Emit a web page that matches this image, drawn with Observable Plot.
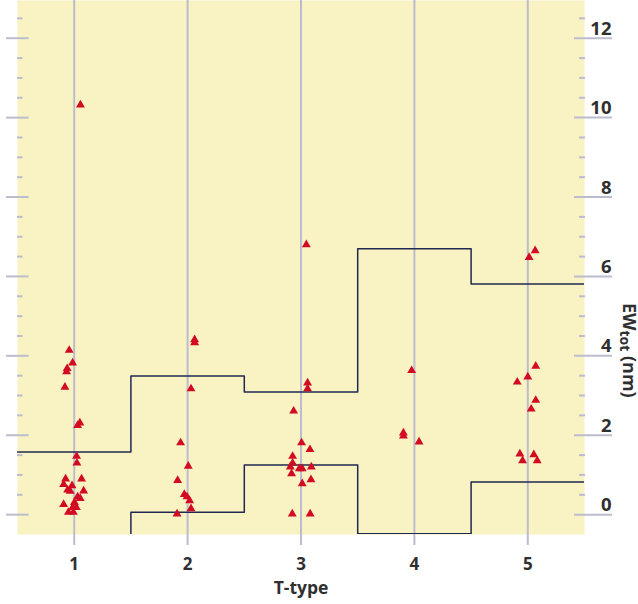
<!DOCTYPE html>
<html>
<head>
<meta charset="utf-8">
<script src="https://cdn.jsdelivr.net/npm/d3@7"></script>
<script src="https://cdn.jsdelivr.net/npm/@observablehq/plot@0.6"></script>
<style>
  html, body { margin: 0; padding: 0; background: #ffffff; }
  #chart svg { display: block; }
</style>
</head>
<body>
<div id="chart"></div>
<script>
// T-type categories (x positions of the vertical guides and tick labels)
const tTypes = [1, 2, 3, 4, 5];

// Individual measurements: horizontal position (spread around each T-type) and EW_tot in nm
const pointX = [
  1.055, 0.956, 0.986, 0.938, 0.933, 0.918, 1.050, 1.030, 1.021, 1.024,
  0.924, 1.065, 0.907, 0.981, 0.942, 0.965, 1.083, 1.030, 1.053, 0.907, 1.002, 0.987, 1.019, 0.949, 0.993,
  2.062, 2.062, 2.030, 1.938, 2.006, 1.912, 1.971, 1.995, 2.018, 2.030, 1.907,
  3.047, 3.058, 3.058, 2.935, 3.005, 3.079, 2.926, 2.926, 2.906, 2.985, 3.011, 3.091, 2.917, 3.088, 3.011, 2.923, 3.081,
  3.976, 3.903, 3.903, 4.041,
  5.065, 5.012, 5.070, 5.000, 4.907, 5.070, 5.030, 4.930, 4.954, 5.053, 5.083
];
const pointEW = [
  10.32, 4.14, 3.82, 3.68, 3.60, 3.21, 2.31, 2.25, 1.47, 1.30,
  0.90, 0.90, 0.76, 0.73, 0.62, 0.59, 0.60, 0.45, 0.41, 0.26, 0.31, 0.18, 0.18, 0.06, 0.06,
  4.41, 4.33, 3.17, 1.81, 1.22, 0.86, 0.51, 0.45, 0.35, 0.15, 0.02,
  6.80, 3.32, 3.17, 2.61, 1.81, 1.64, 1.47, 1.30, 1.20, 1.16, 1.16, 1.20, 1.03, 0.88, 0.78, 0.02, 0.02,
  3.63, 2.06, 1.98, 1.83,
  6.65, 6.48, 3.74, 3.47, 3.34, 2.88, 2.66, 1.53, 1.36, 1.51, 1.36
];

// Upper and lower envelopes per T-type bin (bin edges at half-integers)
const binEdges = [0.5, 1.5, 2.5, 3.5, 4.5, 5.5];
const upperEW = [1.58, 3.49, 3.09, 6.70, 5.81];
const lowerEW = [-1.0, 0.06, 1.25, -0.48, 0.82];

// Axis ticks
const majorTicks = [0, 2, 4, 6, 8, 10, 12];
const minorTicks = [0.5, 1, 1.5, 2.5, 3, 3.5, 4.5, 5, 5.5, 6.5, 7, 7.5, 8.5, 9, 9.5, 10.5, 11, 11.5, 12.5];

const points = pointX.map((x, i) => ({x, ew: pointEW[i]}));
const stepData = (vals) => binEdges.map((x, i) => ({x, ew: vals[Math.min(i, vals.length - 1)]}));

const bg = "#f9f2c2";
const guide = "#bcbccf";
const navy = "#1f2850";
const red = "#d20a23";
const ink = "#2f2f2f";

const chart = Plot.plot({
  width: 638,
  height: 604,
  marginLeft: 17,
  marginRight: 54,
  marginTop: 0,
  marginBottom: 70,
  x: {domain: [0.5, 5.5], axis: null},
  y: {domain: [-0.5, 12.95], axis: null},
  style: {fontFamily: "'Open Sans', sans-serif", background: "transparent", overflow: "visible"},
  marks: [
    Plot.frame({fill: bg, stroke: null}),
    Plot.ruleX(tTypes, {stroke: guide, strokeWidth: 2, insetBottom: -11}),
    // left-side ticks
    Plot.axisY({anchor: "left", ticks: majorTicks, tickSize: 22.5, dx: 11.5, stroke: guide, strokeWidth: 2, fill: "none", label: null}),
    Plot.axisY({anchor: "left", ticks: minorTicks, tickSize: 5.5, dx: 5.5, stroke: guide, strokeWidth: 2, fill: "none", label: null}),
    // right-side ticks
    Plot.axisY({anchor: "right", ticks: majorTicks, tickSize: 38, dx: -11, stroke: guide, strokeWidth: 2, fill: "none", label: null}),
    Plot.axisY({anchor: "right", ticks: minorTicks, tickSize: 6, dx: -6, stroke: guide, strokeWidth: 2, fill: "none", label: null}),
    Plot.lineY(stepData(upperEW), {x: "x", y: "ew", curve: "step-after", stroke: navy, strokeWidth: 1.5, clip: true}),
    Plot.lineY(stepData(lowerEW), {x: "x", y: "ew", curve: "step-after", stroke: navy, strokeWidth: 1.5, clip: true}),
    Plot.dot(points, {x: "x", y: "ew", symbol: "triangle", r: 3.3, fill: red, stroke: null}),
    // tick labels
    Plot.axisY({anchor: "right", ticks: majorTicks, tickSize: 0, tickPadding: 27, textAnchor: "end", lineAnchor: "bottom", dy: -3.5,
      fontSize: 18.5, fontWeight: "bold", fill: ink, label: null}),
    Plot.axisX({anchor: "bottom", ticks: tTypes, tickSize: 0, tickPadding: 23, tickFormat: d => String(d),
      fontSize: 17, fontWeight: "bold", fill: ink, label: null}),
    Plot.text(["T-type"], {text: d => d, frameAnchor: "bottom", lineAnchor: "bottom", dy: 59.5,
      fontSize: 17.5, fontWeight: "bold", fill: ink})
  ]
});

// Vertical y-axis title with subscript
const svg = d3.select(chart);
const title = svg.append("text")
  .attr("transform", "translate(622.5,303) rotate(90)")
  .attr("text-anchor", "start")
  .attr("fill", ink)
  .attr("font-family", "'Open Sans', sans-serif")
  .attr("font-weight", "bold")
  .attr("font-size", 18);
title.append("tspan").text("EW");
title.append("tspan").attr("font-size", 14).attr("dy", 3).text("tot");
title.append("tspan").attr("dy", -3).text(" (nm)");

document.getElementById("chart").appendChild(chart);
</script>
</body>
</html>
